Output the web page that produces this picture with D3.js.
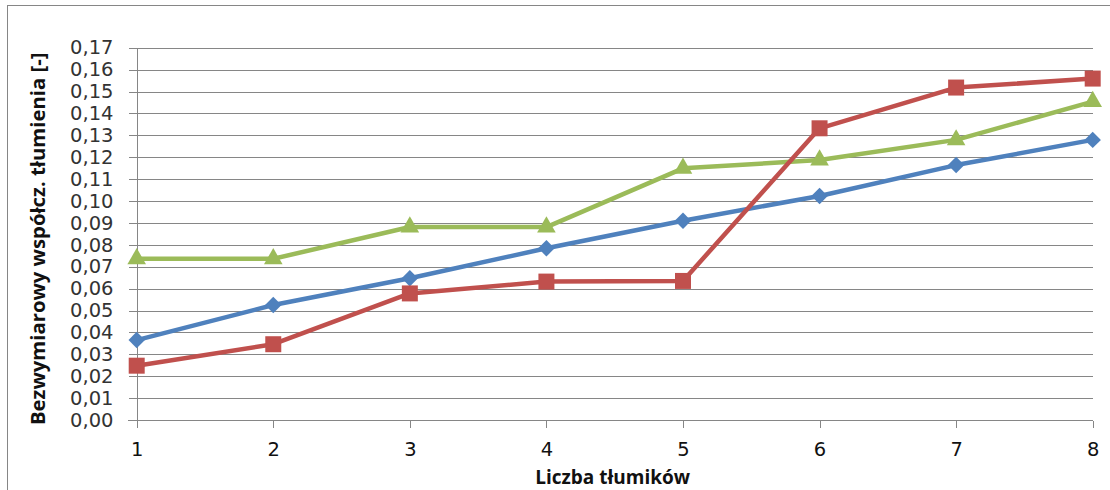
<!DOCTYPE html>
<html>
<head>
<meta charset="utf-8">
<script src="https://cdn.jsdelivr.net/npm/d3@7"></script>
<style>
  html, body { margin: 0; padding: 0; background: #fff; }
  svg { display: block; }
</style>
</head>
<body>
<script>
// Number of dampers on the x axis
const categories = [1, 2, 3, 4, 5, 6, 7, 8];

// Dimensionless damping coefficient for each series
const seriesBlue  = [0.0365, 0.0525, 0.0647, 0.0784, 0.0910, 0.1023, 0.1164, 0.1279];
const seriesRed   = [0.0248, 0.0346, 0.0578, 0.0632, 0.0635, 0.1332, 0.1518, 0.1559];
const seriesGreen = [0.0736, 0.0736, 0.0881, 0.0881, 0.1149, 0.1187, 0.1279, 0.1454];

const yTicks = d3.range(0, 0.1701, 0.01);

const W = 1110, H = 490;
const plotLeft = 136.7, plotRight = 1092.7, plotTop = 47.7, plotBottom = 420;

const svg = d3.select("body").append("svg")
  .attr("width", W).attr("height", H);

// chart frame
svg.append("rect")
  .attr("x", 7.5).attr("y", 5.5)
  .attr("width", 1120).attr("height", 500)
  .attr("fill", "#fff").attr("stroke", "#868686").attr("stroke-width", 1);

const x = d3.scaleLinear().domain([1, 8]).range([plotLeft, plotRight]);
const y = d3.scaleLinear().domain([0, 0.17]).range([plotBottom, plotTop]);

const fmt = v => d3.format(".2f")(v).replace(".", ",");
const axisX0 = Math.round(plotLeft) + 0.5;

// horizontal gridlines + y axis labels
const yAxis = d3.axisLeft(y).tickValues(yTicks).tickFormat(fmt).tickSize(0);
const gy = svg.append("g").attr("transform", `translate(${axisX0},0)`).call(yAxis);
gy.select(".domain").remove();
gy.selectAll(".tick line").attr("stroke", "#868686").attr("shape-rendering", "crispEdges")
  .attr("x1", -9).attr("x2", plotRight - axisX0);
gy.selectAll(".tick text")
  .attr("font-family", "DejaVu Sans").attr("font-size", 19.5).attr("fill", "#333")
  .attr("x", -24);

// y axis line
svg.append("line")
  .attr("x1", axisX0).attr("x2", axisX0)
  .attr("y1", y(0.17)).attr("y2", plotBottom + 7)
  .attr("stroke", "#868686").attr("shape-rendering", "crispEdges");

// x axis
const xAxis = d3.axisBottom(x).tickValues(categories).tickFormat(d3.format("d"))
  .tickSize(7).tickPadding(15);
const gx = svg.append("g").attr("transform", `translate(0,${Math.round(plotBottom) + 0.5})`).call(xAxis);
gx.select(".domain").attr("stroke", "#868686").attr("d", `M${plotLeft - 9},0H${plotRight}`)
  .attr("shape-rendering", "crispEdges");
gx.selectAll(".tick line").attr("stroke", "#868686").attr("shape-rendering", "crispEdges");
gx.selectAll(".tick text")
  .attr("font-family", "DejaVu Sans").attr("font-size", 19.5).attr("fill", "#111");

// axis titles
svg.append("text")
  .attr("x", (plotLeft + plotRight) / 2 - 2).attr("y", 484)
  .attr("text-anchor", "middle")
  .attr("font-family", "Open Sans").attr("font-weight", "bold").attr("font-size", 19)
  .attr("fill", "#111")
  .text("Liczba tłumików");

svg.append("text")
  .attr("transform", `translate(45,${(plotTop + plotBottom) / 2 + 5}) rotate(-90)`)
  .attr("text-anchor", "middle")
  .attr("font-family", "Open Sans").attr("font-weight", "bold").attr("font-size", 20.3)
  .attr("fill", "#111")
  .text("Bezwymiarowy współcz. tłumienia [-]");

const line = d3.line().x((d, i) => x(categories[i])).y(d => y(d));

const series = [
  { values: seriesBlue,  color: "#4F81BD", symbol: d3.symbolSquare,   size: 135, rotate: 45 },
  { values: seriesGreen, color: "#9BBB59", symbol: d3.symbolTriangle, size: 150, rotate: 0 },
  { values: seriesRed,   color: "#C0504D", symbol: d3.symbolSquare,   size: 256, rotate: 0 }
];

series.forEach(s => {
  const g = svg.append("g");
  g.append("path")
    .attr("d", line(s.values))
    .attr("fill", "none").attr("stroke", s.color)
    .attr("stroke-width", 4.5).attr("stroke-linejoin", "round");
  g.selectAll("path.m").data(s.values).enter().append("path")
    .attr("class", "m")
    .attr("transform", (d, i) => `translate(${x(categories[i])},${y(d)}) rotate(${s.rotate})`)
    .attr("d", d3.symbol().type(s.symbol).size(s.size))
    .attr("fill", s.color);
});
</script>
</body>
</html>
